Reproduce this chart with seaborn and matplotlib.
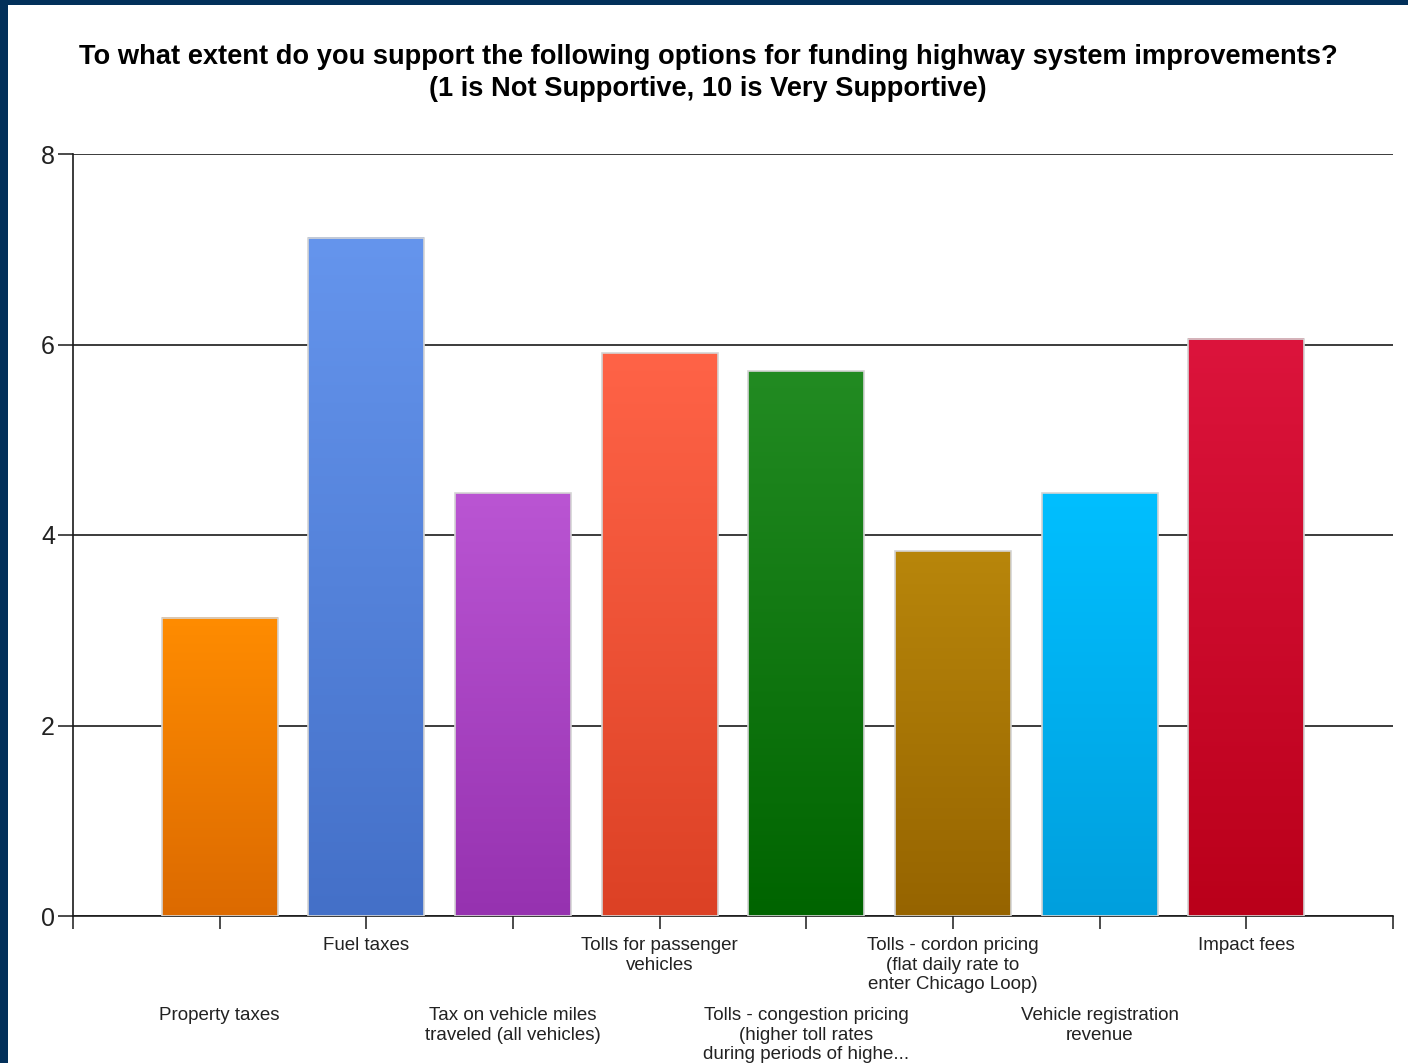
import matplotlib
matplotlib.use("Agg")
import matplotlib.pyplot as plt
import numpy as np
import pandas as pd
import seaborn as sns
from matplotlib.colors import to_rgb
from matplotlib.patches import Rectangle

# values
categories = [
    "Property taxes",
    "Fuel taxes",
    "Tax on vehicle miles\ntraveled (all vehicles)",
    "Tolls for passenger\nvehicles",
    "Tolls - congestion pricing\n(higher toll rates\nduring periods of highe...",
    "Tolls - cordon pricing\n(flat daily rate to\nenter Chicago Loop)",
    "Vehicle registration\nrevenue",
    "Impact fees",
]
scores = [3.13, 7.12, 4.44, 5.91, 5.72, 3.83, 4.44, 6.06]
top_colors = ["#ff8c00", "#6595ed", "#ba55d3", "#ff6347",
              "#228b22", "#b8860b", "#00bfff", "#dc143c"]
bottom_colors = ["#dc6a00", "#4470c8", "#9632b0", "#dc4125",
                 "#006400", "#966400", "#009fdd", "#ba001a"]
title = ("To what extent do you support the following options for funding "
         "highway system improvements?\n(1 is Not Supportive, 10 is Very Supportive)")

sns.set_style("white")
plt.rcParams["font.family"] = ["Liberation Sans", "DejaVu Sans"]

fig = plt.figure(figsize=(14.08, 10.63), dpi=100, facecolor="#02305a")
fig.patches.append(Rectangle((8 / 1408, 0), 1, 1 - 5 / 1063,
                             transform=fig.transFigure, facecolor="white",
                             edgecolor="none", zorder=-10))
ax = fig.add_axes([73 / 1408, 1 - 916 / 1063, 1320 / 1408, 762 / 1063])
ax.set_facecolor("none")

df = pd.DataFrame({"option": categories, "score": scores})
sns.barplot(data=df, x="option", y="score", hue="option", palette=top_colors,
            legend=False, width=0.79, ax=ax, zorder=3)

# vertical gradient fill on every bar, with a pale grey outline
for patch, c_top, c_bot in zip(ax.patches, top_colors, bottom_colors):
    x0, w, h = patch.get_x(), patch.get_width(), patch.get_height()
    t = np.linspace(0, 1, 256)[:, None]
    grad = (1 - t) * np.array(to_rgb(c_top)) + t * np.array(to_rgb(c_bot))
    ax.imshow(grad[:, None, :].repeat(2, axis=1), extent=(x0, x0 + w, 0, h),
              origin="upper", aspect="auto", zorder=3.5, interpolation="bilinear")
    patch.set_facecolor("none")
    patch.set_edgecolor("#d4d4d4")
    patch.set_linewidth(1.2)
    patch.set_zorder(4)

ax.set_xlim(-1, 8)
ax.set_ylim(0, 8)
ax.set_yticks([0, 2, 4, 6, 8])
ax.set_xticks(np.arange(-1, 9))
ax.set_xticklabels([])
ax.set_xlabel("")
ax.set_ylabel("")
ax.yaxis.grid(True, color="#1a1a1a", linewidth=1.2, zorder=1)
ax.set_axisbelow(True)
for side in ["top", "right"]:
    ax.spines[side].set_visible(False)
for side in ["left", "bottom"]:
    ax.spines[side].set_color("#1a1a1a")
    ax.spines[side].set_linewidth(1.2)
ax.tick_params(axis="y", length=11, width=1.1, color="#1a1a1a", direction="out",
               labelsize=18, labelcolor="#222222", pad=2, left=True)
ax.tick_params(axis="x", length=9, width=1.1, color="#1a1a1a", direction="out",
               bottom=True)

# category labels, alternating between two rows
for i, label in enumerate(categories):
    offset = 21 if i % 2 == 1 else 91
    ax.annotate(label, xy=(i, 0), xycoords=("data", "axes fraction"),
                xytext=(0, -offset), textcoords="offset pixels",
                ha="center", va="top", fontsize=13.5, color="#222222",
                linespacing=1.2, annotation_clip=False)

fig.text(708 / 1408, 1 - 44 / 1063, title, ha="center", va="top",
         fontsize=19.6, fontweight="bold", color="black", linespacing=1.3)

fig.savefig("out.png", dpi=100, facecolor=fig.get_facecolor())
